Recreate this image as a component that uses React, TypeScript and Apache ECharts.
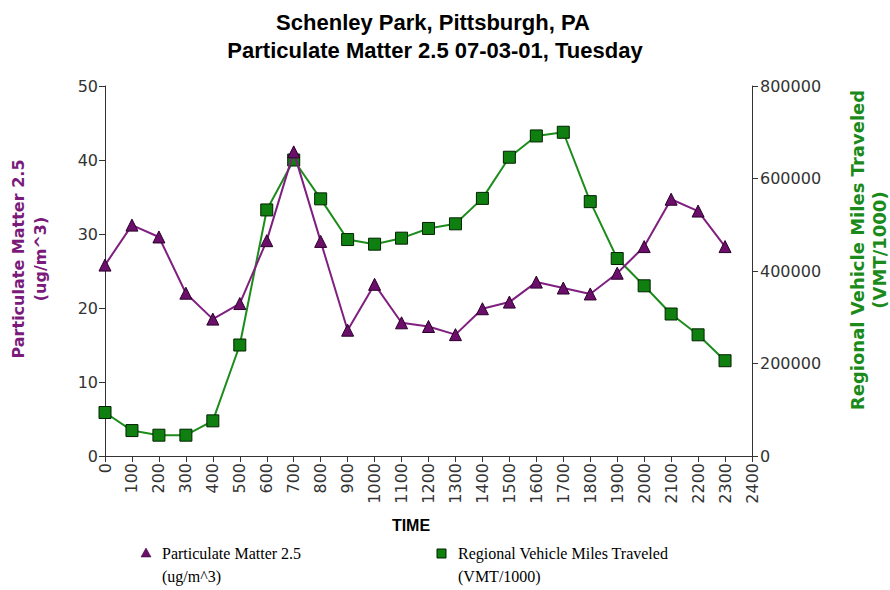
import React, { useEffect, useRef } from "react";
import * as echarts from "echarts";

const TIMES = [0, 100, 200, 300, 400, 500, 600, 700, 800, 900, 1000, 1100, 1200, 1300, 1400, 1500, 1600, 1700, 1800, 1900, 2000, 2100, 2200, 2300];
const PM25 = [25.8, 31.2, 29.6, 22.0, 18.5, 20.6, 29.1, 41.1, 29.0, 17.0, 23.2, 18.0, 17.5, 16.4, 19.9, 20.8, 23.5, 22.7, 21.9, 24.7, 28.3, 34.7, 33.1, 28.3];
const VMT = [94000, 55000, 45000, 45000, 76000, 240000, 532000, 640000, 556000, 468000, 458000, 471000, 492000, 502000, 557000, 646000, 692000, 700000, 550000, 427000, 368000, 307000, 262000, 206000];
const X_TICKS = { min: 0, max: 2400, interval: 100 };
const PM_TICKS = { min: 0, max: 50, interval: 10 };
const VMT_TICKS = { min: 0, max: 800000, interval: 200000 };

const TITLE1 = "Schenley Park, Pittsburgh, PA";
const TITLE2 = "Particulate Matter 2.5 07-03-01, Tuesday";
const PM_NAME = ["Particulate Matter 2.5", "(ug/m^3)"];
const VMT_NAME = ["Regional Vehicle Miles Traveled", "(VMT/1000)"];
const X_NAME = "TIME";

const PURPLE = "#7f1f7f";
const PURPLE_MARK = "#6b0f6b";
const GREEN = "#1c8c1c";
const GREEN_MARK = "#0f800f";
const AXIS = "#333";

export default function App() {
  const ref = useRef<HTMLDivElement>(null);
  useEffect(() => {
    if (!ref.current) return;
    const chart = echarts.init(ref.current, undefined, { renderer: "svg" });
    const labelStyle = { color: "#333", fontFamily: "DejaVu Sans", fontSize: 16, formatter: (v: number) => String(v) };
    const titleStyle = { fontFamily: "Liberation Sans, Arial", fontSize: 22, fontWeight: "bold", color: "#000" };
    chart.setOption({
      animation: false,
      backgroundColor: "#fff",
      title: [
        { text: TITLE1, left: 428, top: 6, textAlign: "center", textStyle: titleStyle },
        { text: TITLE2, left: 430, top: 34, textAlign: "center", textStyle: titleStyle },
      ],
      grid: { left: 105, right: 138, top: 86, bottom: 134, containLabel: false },
      xAxis: {
        type: "value",
        ...X_TICKS,
        axisLine: { lineStyle: { color: AXIS } },
        axisTick: { show: true, length: 6, lineStyle: { color: AXIS } },
        splitLine: { show: false },
        axisLabel: { ...labelStyle, rotate: 90, margin: 7, showMinLabel: true, showMaxLabel: true },
      },
      yAxis: [
        {
          type: "value",
          ...PM_TICKS,
          position: "left",
          axisLine: { show: true, lineStyle: { color: AXIS } },
          axisTick: { show: true, length: 6, lineStyle: { color: AXIS } },
          splitLine: { show: false },
          axisLabel: { ...labelStyle, margin: 7 },
        },
        {
          type: "value",
          ...VMT_TICKS,
          position: "right",
          axisLine: { show: true, lineStyle: { color: AXIS } },
          axisTick: { show: true, length: 6, lineStyle: { color: AXIS } },
          splitLine: { show: false },
          axisLabel: { ...labelStyle, margin: 8 },
        },
      ],
      series: [
        {
          name: "PM",
          type: "line",
          yAxisIndex: 0,
          data: TIMES.map((t, i) => [t, PM25[i]]),
          symbol: "triangle",
          symbolSize: 12,
          lineStyle: { color: PURPLE, width: 2 },
          itemStyle: { color: PURPLE_MARK, borderColor: "#2a002a", borderWidth: 1 },
          z: 3,
        },
        {
          name: "VMT",
          type: "line",
          yAxisIndex: 1,
          data: TIMES.map((t, i) => [t, VMT[i]]),
          symbol: "rect",
          symbolSize: 12,
          lineStyle: { color: GREEN, width: 2 },
          itemStyle: { color: GREEN_MARK, borderColor: "#002200", borderWidth: 1 },
          z: 2,
        },
      ],
      graphic: [
        { type: "text", x: 18, y: 259, rotation: Math.PI / 2, style: { text: PM_NAME[0], fill: "#7a1a7a", font: "bold 16px DejaVu Sans", align: "center", verticalAlign: "middle" } },
        { type: "text", x: 40, y: 259, rotation: Math.PI / 2, style: { text: PM_NAME[1], fill: "#7a1a7a", font: "bold 16px DejaVu Sans", align: "center", verticalAlign: "middle" } },
        { type: "text", x: 857, y: 250, rotation: Math.PI / 2, style: { text: VMT_NAME[0], fill: "#1a8a1a", font: "bold 18px DejaVu Sans", align: "center", verticalAlign: "middle" } },
        { type: "text", x: 879, y: 250, rotation: Math.PI / 2, style: { text: VMT_NAME[1], fill: "#1a8a1a", font: "bold 18px DejaVu Sans", align: "center", verticalAlign: "middle" } },
        { type: "text", x: 411, y: 525, style: { text: X_NAME, fill: "#000", font: "bold 16px Liberation Sans Narrow, Liberation Sans, Arial", align: "center", verticalAlign: "middle" } },
        { type: "polygon", shape: { points: [[146, 548], [141, 557], [151, 557]] }, style: { fill: PURPLE_MARK, stroke: "#2a002a", lineWidth: 0.5 } },
        { type: "text", x: 162, y: 553, style: { text: "Particulate Matter 2.5", fill: "#000", font: "16px Liberation Serif, Times New Roman", verticalAlign: "middle" } },
        { type: "text", x: 162, y: 576, style: { text: "(ug/m^3)", fill: "#000", font: "16px Liberation Serif, Times New Roman", verticalAlign: "middle" } },
        { type: "rect", shape: { x: 437, y: 549, width: 9, height: 9 }, style: { fill: GREEN_MARK, stroke: "#002200", lineWidth: 1 } },
        { type: "text", x: 458, y: 553, style: { text: "Regional Vehicle Miles Traveled", fill: "#000", font: "16px Liberation Serif, Times New Roman", verticalAlign: "middle" } },
        { type: "text", x: 458, y: 576, style: { text: "(VMT/1000)", fill: "#000", font: "16px Liberation Serif, Times New Roman", verticalAlign: "middle" } },
      ],
    });
    return () => chart.dispose();
  }, []);
  return <div ref={ref} style={{ width: 890, height: 590, position: "absolute", left: 0, top: 0 }} />;
}
